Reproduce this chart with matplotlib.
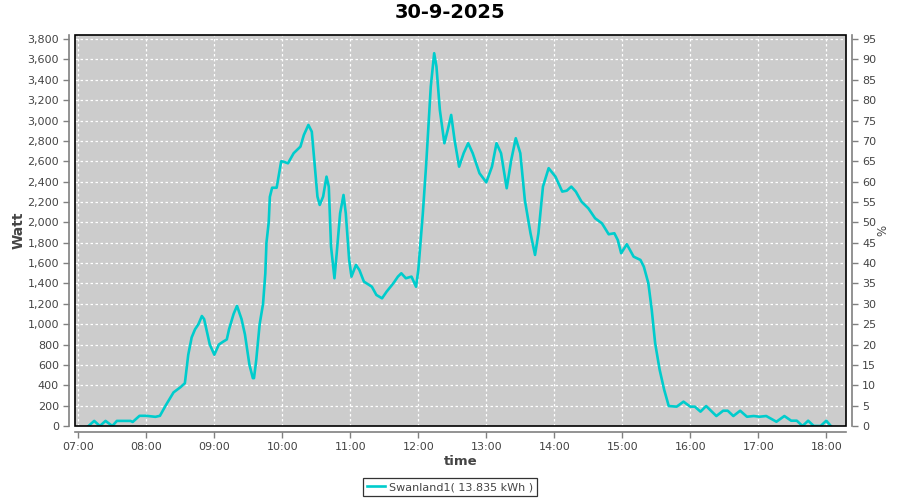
import matplotlib
matplotlib.use("Agg")
import matplotlib.pyplot as plt
from matplotlib.ticker import FuncFormatter, FixedLocator
from matplotlib.patches import Rectangle

# ---- data ----
times = ["07:09","07:14","07:19","07:24","07:30","07:34","07:46","07:48","07:54","08:00",
         "08:08","08:12","08:17","08:24","08:30","08:34","08:37","08:40","08:43","08:46",
         "08:49","08:51","08:56","09:00","09:04","09:08","09:11","09:13","09:17","09:20",
         "09:24","09:27","09:31","09:34","09:35","09:37","09:40","09:43","09:45","09:46",
         "09:48","09:49","09:51","09:55","09:59","10:01","10:05","10:10","10:16","10:19",
         "10:23","10:26","10:29","10:31","10:33","10:36","10:39","10:41","10:43","10:46",
         "10:48","10:51","10:54","10:56","10:59","11:01","11:05","11:08","11:12","11:19",
         "11:23","11:28","11:32","11:38","11:42","11:45","11:49","11:54","11:58","12:00",
         "12:04","12:07","12:11","12:14","12:16","12:19","12:23","12:26","12:29","12:32",
         "12:36","12:40","12:44","12:48","12:54","13:00","13:05","13:09","13:13","13:18",
         "13:22","13:26","13:30","13:34","13:39","13:43","13:46","13:50","13:55","14:01",
         "14:07","14:11","14:15","14:19","14:24","14:30","14:36","14:42","14:48","14:53",
         "14:56","14:59","15:04","15:10","15:16","15:19","15:23","15:26","15:29","15:33",
         "15:37","15:41","15:48","15:54","16:00","16:04","16:09","16:14","16:23","16:29",
         "16:33","16:38","16:44","16:50","16:56","17:01","17:07","17:16","17:23","17:29",
         "17:34","17:39","17:44","17:49","17:55","18:00","18:04"]
watt = [0, 50, 0, 50, 0, 50, 50, 40, 100, 100,
        90, 100, 200, 330, 380, 420, 700, 870, 950, 1000,
        1080, 1050, 800, 700, 800, 830, 850, 950, 1100, 1180,
        1050, 900, 600, 470, 470, 650, 1000, 1200, 1500, 1800,
        2000, 2250, 2340, 2340, 2600, 2596, 2580, 2679, 2744, 2858,
        2957, 2891, 2515, 2253, 2171, 2253, 2449, 2351, 1761, 1451,
        1697, 2089, 2269, 2089, 1631, 1467, 1582, 1532, 1418, 1368,
        1287, 1254, 1319, 1402, 1467, 1500, 1451, 1467, 1368, 1532,
        2089, 2580, 3333, 3661, 3530, 3104, 2777, 2908, 3055, 2809,
        2547, 2679, 2777, 2679, 2482, 2393, 2547, 2777, 2679, 2335,
        2613, 2826, 2679, 2220, 1893, 1680, 1893, 2351, 2532, 2449,
        2302, 2311, 2351, 2302, 2203, 2138, 2040, 1991, 1883, 1893,
        1827, 1697, 1785, 1663, 1631, 1565, 1402, 1139, 812, 550,
        354, 196, 190, 239, 190, 190, 141, 196, 98, 150,
        150, 98, 150, 91, 98, 91, 98, 42, 98, 52,
        52, 0, 52, 0, 0, 52, 0]
series_name = "Swanland1( 13.835 kWh )"
title = "30-9-2025"
xtick_labels = ["07:00","08:00","09:00","10:00","11:00","12:00","13:00",
                "14:00","15:00","16:00","17:00","18:00"]

def to_h(s):
    h, m = s.split(":")
    return int(h) + int(m) / 60.0

xs = [to_h(t) for t in times]
xt = [to_h(t) for t in xtick_labels]

plt.rcParams['font.family'] = ['DejaVu Sans']
fig = plt.figure(figsize=(9, 5), dpi=100)
ax = fig.add_axes([75/900, 74/500, 771/900, 391/500])
ax.set_facecolor('#cccccc')
ax.plot(xs, watt, color='#00cccc', lw=1.9, solid_joinstyle='round', zorder=3)

ax.set_xlim(6.951, 18.29)
ax.set_ylim(0, 3840)

ax.yaxis.set_major_locator(FixedLocator(list(range(0, 3801, 200))))
ax.yaxis.set_major_formatter(FuncFormatter(lambda v, p: f"{int(v):,}"))
ax.set_xticks(xt)
ax.set_xticklabels(xtick_labels)

ax.grid(True, color='white', linestyle=(0, (2, 2)), linewidth=0.9)
ax.set_axisbelow(True)

gray = '#808080'
txt = '#444444'
for s in ['top', 'right']:
    ax.spines[s].set_visible(False)
for s in ['left', 'bottom']:
    ax.spines[s].set_position(('outward', 4))
    ax.spines[s].set_color(gray)
    ax.spines[s].set_linewidth(1.2)
ax.tick_params(axis='both', colors=gray, labelcolor=txt, labelsize=8, length=4, width=1)

frame = Rectangle((0, 0), 1, 1, transform=ax.transAxes, fill=False,
                  edgecolor='black', lw=1.2, zorder=5, clip_on=False)
ax.add_patch(frame)

ax2 = ax.twinx()
ax2.set_ylim(0, 96)
ax2.set_yticks(list(range(0, 96, 5)))
for s in ['top', 'left', 'bottom']:
    ax2.spines[s].set_visible(False)
ax2.spines['right'].set_position(('outward', 4))
ax2.spines['right'].set_color(gray)
ax2.spines['right'].set_linewidth(1.2)
ax2.tick_params(axis='y', colors=gray, labelcolor=txt, labelsize=8, length=4, width=1)
ax2.set_ylabel('%', color=txt, fontsize=8.5, labelpad=0)

ax.set_ylabel('Watt', color=txt, fontsize=10, fontweight='bold', labelpad=1)
ax.set_xlabel('time', color=txt, fontsize=9.5, fontweight='bold', labelpad=2)

fig.text(0.5, 0.974, title, ha='center', va='center', fontsize=14, fontweight='bold')

leg = fig.legend(handles=ax.lines, labels=[series_name], loc='center',
                 bbox_to_anchor=(450/900, 1 - 487/500), fontsize=8, frameon=True,
                 fancybox=False, edgecolor='black', handlelength=1.6,
                 handletextpad=0.4, borderpad=0.35, borderaxespad=0)
leg.get_frame().set_linewidth(0.9)
for t in leg.get_texts():
    t.set_color(txt)

fig.savefig('out.png', dpi=100)
